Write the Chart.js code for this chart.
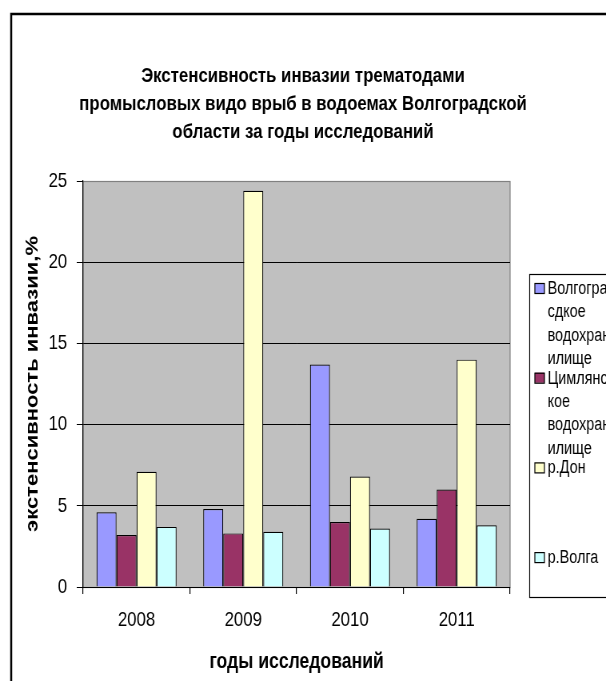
<!DOCTYPE html>
<html>
<head>
<meta charset="utf-8">
<script src="https://cdn.jsdelivr.net/npm/chart.js@4"></script>
<style>
  html, body { margin: 0; padding: 0; background: #fff; }
  /* drawn wide, shown narrow: gives the condensed Arial look */
  #chart { display: block; width: 606px; height: 681px; }
</style>
</head>
<body>
<canvas id="chart" width="758" height="681" style="width:606px;height:681px"></canvas>
<script>
var years = ['2008', '2009', '2010', '2011'];
var seriesNames = ['Волгограсдкое водохранилище', 'Цимлянское водохранилище', 'р.Дон', 'р.Волга'];
// how the legend wraps the long names
var legendLines = [
    ['Волгогра', 'сдкое', 'водохран', 'илище'],
    ['Цимлянс', 'кое', 'водохран', 'илище'],
    ['р.Дон'],
    ['р.Волга']
];
var volgogradRes = [4.6, 4.8, 13.7, 4.2];
var tsimlyanskRes = [3.2, 3.3, 4.0, 6.0];
var donRiver = [7.1, 24.4, 6.8, 14.0];
var volgaRiver = [3.7, 3.4, 3.6, 3.8];
var yTicks = [0, 5, 10, 15, 20, 25];

var titleLines = [
    'Экстенсивность инвазии трематодами',
    'промысловых видо врыб в водоемах Волгоградской',
    'области за годы исследований'
];

var colors = ['#9999FF', '#993366', '#FFFFCC', '#CCFFFF'];
var arial = "'Liberation Sans', Arial, sans-serif";

// outer frame, grey plot area and its border
var framePlugin = {
    id: 'frame',
    beforeDraw: function (chart) {
        var ctx = chart.ctx, a = chart.chartArea;
        ctx.save();
        ctx.strokeStyle = '#000';
        ctx.lineWidth = 2.5;
        ctx.strokeRect(14, 14, chart.width + 20, chart.height + 20);
        ctx.fillStyle = '#C0C0C0';
        ctx.fillRect(a.left, a.top, a.right - a.left, a.bottom - a.top);
        ctx.strokeStyle = '#808080';
        ctx.lineWidth = 1.2;
        ctx.strokeRect(a.left, a.top + 0.5, a.right - a.left, a.bottom - a.top);
        ctx.restore();
    }
};

// legend box at the right, cut by the canvas edge
var legendPlugin = {
    id: 'sideLegend',
    afterDraw: function (chart) {
        var ctx = chart.ctx;
        ctx.save();
        ctx.strokeStyle = '#000';
        ctx.lineWidth = 1.2;
        ctx.strokeRect(662.5, 274.5, 150, 323);
        ctx.font = '18px ' + arial;
        ctx.textBaseline = 'middle';
        for (var i = 0; i < seriesNames.length; i++) {
            var y = 288 + i * 89.7;
            ctx.fillStyle = colors[i];
            ctx.fillRect(669, y - 5, 12, 10);
            ctx.strokeStyle = '#000';
            ctx.lineWidth = 1.2;
            ctx.strokeRect(669, y - 4.5, 12, 10);
            ctx.fillStyle = '#000';
            for (var j = 0; j < legendLines[i].length; j++) {
                ctx.fillText(legendLines[i][j], 685, y + 1 + j * 23.3);
            }
        }
        ctx.restore();
    }
};

var sets = [volgogradRes, tsimlyanskRes, donRiver, volgaRiver];
var datasets = sets.map(function (vals, i) {
    return {
        label: seriesNames[i],
        data: vals,
        backgroundColor: colors[i],
        borderColor: '#000',
        borderWidth: 1.2,
        categoryPercentage: 0.75,
        barPercentage: 1
    };
});

new Chart(document.getElementById('chart'), {
    type: 'bar',
    data: { labels: years, datasets: datasets },
    options: {
        responsive: false,
        animation: false,
        devicePixelRatio: 1,
        layout: { padding: 0 },
        plugins: {
            legend: { display: false },
            tooltip: { enabled: false },
            title: {
                display: true,
                text: titleLines,
                color: '#000',
                font: { family: arial, size: 21, weight: 'bold', lineHeight: 28 / 21 },
                padding: { top: 62, bottom: 35 }
            }
        },
        scales: {
            x: {
                offset: true,
                grid: { offset: true, drawOnChartArea: false, drawTicks: true, tickLength: 7, color: '#000', lineWidth: 1.2 },
                border: { color: '#000', width: 1 },
                ticks: { color: '#000', font: { family: arial, size: 21 }, padding: 14 },
                title: {
                    display: true,
                    text: 'годы исследований',
                    color: '#000',
                    font: { family: arial, size: 22, weight: 'bold' },
                    padding: { bottom: 6 }
                },
                afterFit: function (s) { s.height = 94; }
            },
            y: {
                min: 0,
                max: 25,
                afterBuildTicks: function (s) {
                    s.ticks = yTicks.map(function (v) { return { value: v }; });
                },
                grid: {
                    color: function (c) { return c.tick && c.tick.value === 25 ? '#808080' : '#000'; },
                    tickColor: '#000',
                    tickLength: 8
                },
                border: { color: '#000', width: 1.2 },
                ticks: { color: '#000', font: { family: arial, size: 21 }, padding: 12 },
                title: {
                    display: true,
                    text: 'экстенсивность инвазии,%',
                    color: '#000',
                    font: { family: arial, size: 22, weight: 'bold' },
                    padding: { top: 28 }
                },
                afterFit: function (s) { s.width = 104; }
            },
            yRight: {
                position: 'right',
                display: true,
                grid: { display: false },
                border: { display: false },
                ticks: { display: false },
                afterFit: function (s) { s.width = 120; }
            }
        }
    },
    plugins: [framePlugin, legendPlugin]
});
</script>
</body>
</html>
